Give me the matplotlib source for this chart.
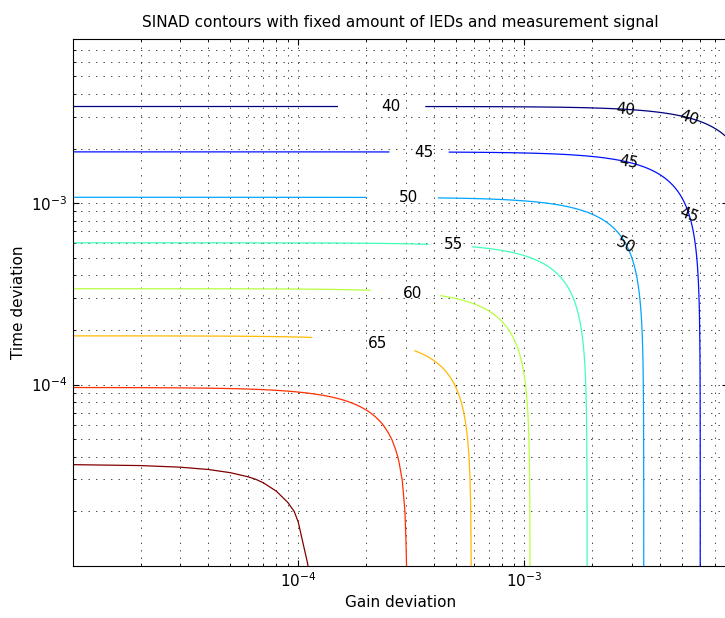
import numpy as np
import matplotlib
matplotlib.use("Agg")
import matplotlib.pyplot as plt

# contour levels (dB)
levels = [40, 45, 50, 55, 60, 65, 70, 75]

# simulation grid: linear steps of 1e-5 in both deviations
gain_dev = np.arange(1, 801) * 1e-5
time_dev = np.arange(1, 801) * 1e-5

# error model
gain_weight = 0.866
time_weight = 8.6
noise_floor = 2.02e-8

G, T = np.meshgrid(gain_dev, time_dev)
sinad = -10 * np.log10(gain_weight * G**2 + time_weight * T**2 + noise_floor)

# labels sitting in the wide gaps of the horizontal branches
# (gap centre gain, gap centre time, spacing px, text gain, text time)
gap_labels = [
    (2.34e-4, 3.41e-3, 34, 2.57e-4, 3.42e-3),   # 40
    (3.43e-4, 1.92e-3, 20, 3.59e-4, 1.91e-3),   # 45
    (2.89e-4, 1.084e-3, 26, 3.09e-4, 1.08e-3),  # 50
    (4.72e-4, 6.02e-4, 12, 4.86e-4, 5.90e-4),   # 55
    (2.99e-4, 3.30e-4, 25, 3.20e-4, 3.19e-4),   # 60
    (1.95e-4, 1.75e-4, 42, 2.24e-4, 1.68e-4),   # 65
]
# labels drawn over the curved part (gain, time, rotation)
curve_labels = [
    (2.82e-3, 3.27e-3, -7),    # 40
    (5.38e-3, 2.95e-3, -20),   # 40
    (2.92e-3, 1.68e-3, -10),   # 45
    (5.38e-3, 8.55e-4, -20),   # 45
    (2.82e-3, 5.85e-4, -27),   # 50
]

plt.rcParams["font.family"] = "DejaVu Sans"
plt.rcParams["font.size"] = 11

fig = plt.figure(figsize=(7.25, 6.18), dpi=100)
ax = fig.add_axes([0.1001, 0.0841, 0.9037, 0.8523])
ax.set_xscale("log")
ax.set_yscale("log")

cs = ax.contour(gain_dev, time_dev, sinad, levels=levels, cmap="jet", linewidths=0.9)
ax.set_xlim(gain_dev[0], gain_dev[-1])
ax.set_ylim(time_dev[0], time_dev[-1])

for gx, ty, sp, tx, tt in gap_labels:
    ax.clabel(cs, levels=levels, manual=[(gx, ty)], inline=True,
              inline_spacing=sp, fmt="%d", colors="k", fontsize=11)
    txt = cs.labelTexts[-1]
    txt.set_position((tx, tt))
    txt.set_rotation(0)

for gx, ty, rot in curve_labels:
    ax.clabel(cs, levels=levels, manual=[(gx, ty)], inline=False,
              fmt="%d", colors="k", fontsize=11)
    txt = cs.labelTexts[-1]
    txt.set_position((gx, ty))
    txt.set_rotation(rot)

# only the two inner decades are labelled
ax.set_xticks([1e-4, 1e-3])
ax.set_yticks([1e-4, 1e-3])
ax.set_xlim(gain_dev[0], gain_dev[-1])
ax.set_ylim(time_dev[0], time_dev[-1])

ax.grid(True, which="both", color="k", linestyle=(0, (2, 8.8)), linewidth=0.5)
ax.tick_params(which="both", direction="in", top=True, right=True)
ax.tick_params(which="major", length=4)
ax.tick_params(which="minor", length=2)

ax.set_title("SINAD contours with fixed amount of IEDs and measurement signal",
             fontsize=11, pad=9)
ax.set_xlabel("Gain deviation")
ax.set_ylabel("Time deviation")

fig.savefig("out.png", dpi=100)
